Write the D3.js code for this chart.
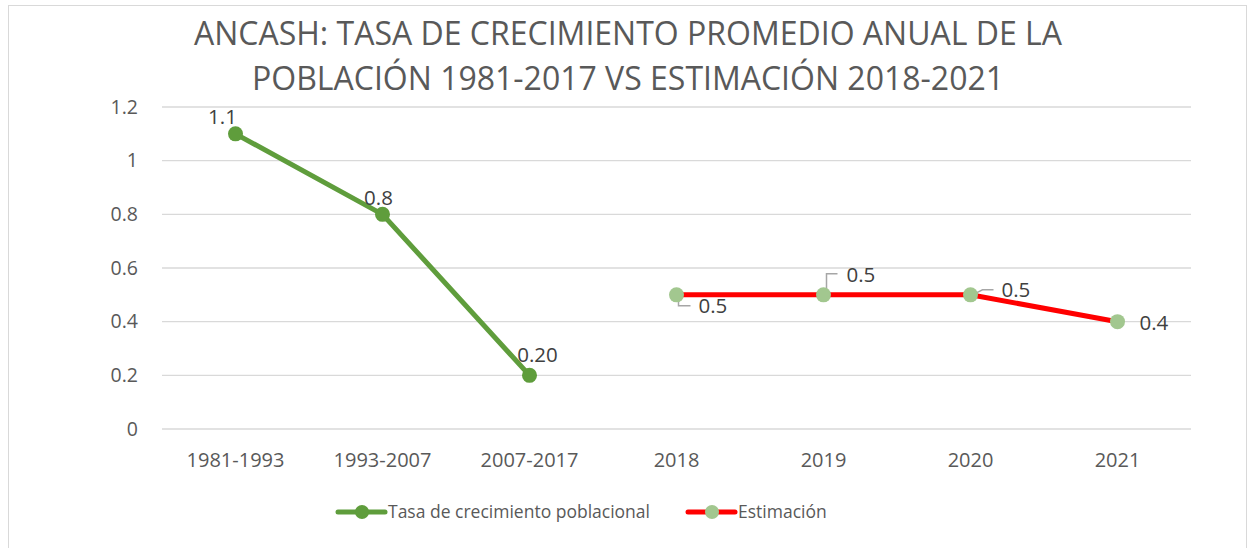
<!DOCTYPE html>
<html>
<head>
<meta charset="utf-8">
<script src="https://cdn.jsdelivr.net/npm/d3@7"></script>
<style>
  body { margin: 0; background: #fff; }
  text { font-family: "Open Sans", "Noto Sans", sans-serif; }
</style>
</head>
<body>
<div id="chart"></div>
<script>
var categories = ["1981-1993", "1993-2007", "2007-2017", "2018", "2019", "2020", "2021"];
var tasaCats = ["1981-1993", "1993-2007", "2007-2017"];
var tasaValues = [1.1, 0.8, 0.2];
var tasaLabels = ["1.1", "0.8", "0.20"];
var estCats = ["2018", "2019", "2020", "2021"];
var estValues = [0.5, 0.5, 0.5, 0.4];
var estLabels = ["0.5", "0.5", "0.5", "0.4"];
var yTicks = [0, 0.2, 0.4, 0.6, 0.8, 1, 1.2];

var W = 1248, H = 548;
var margin = { left: 162, right: 57, top: 107, bottom: 119 };

var svg = d3.select("#chart").append("svg")
    .attr("width", W).attr("height", H);

// chart frame
svg.append("rect")
    .attr("x", 8.5).attr("y", 5.5)
    .attr("width", 1238).attr("height", 560)
    .attr("fill", "#fff").attr("stroke", "#d9d9d9");

var x = d3.scaleBand().domain(categories)
    .range([margin.left, W - margin.right]);
var y = d3.scaleLinear().domain([0, 1.2])
    .range([H - margin.bottom, margin.top]);

// gridlines
svg.append("g").selectAll("line").data(yTicks).enter().append("line")
    .attr("x1", margin.left).attr("x2", W - margin.right)
    .attr("y1", function(d) { return y(d); })
    .attr("y2", function(d) { return y(d); })
    .attr("stroke", "#d9d9d9").attr("stroke-width", 1.3);

// y axis labels
var yAxis = d3.axisLeft(y).tickValues(yTicks).tickSize(0).tickPadding(0)
    .tickFormat(function(d) { return String(d); });
var ya = svg.append("g").attr("transform", "translate(138,0)").call(yAxis);
ya.select(".domain").remove();
ya.selectAll("text").attr("fill", "#595959").attr("font-size", 19.5)
    .attr("font-family", "Open Sans");

// x axis labels
var xAxis = d3.axisBottom(x).tickSize(0).tickPadding(0);
var xa = svg.append("g").attr("transform", "translate(0,467)").call(xAxis);
xa.select(".domain").remove();
xa.selectAll("text").attr("fill", "#595959").attr("font-size", 20)
    .attr("font-family", "Open Sans").attr("y", 0).attr("dy", 0);

var cx = function(c) { return x(c) + x.bandwidth() / 2; };

// title
var title = svg.append("text").attr("text-anchor", "middle")
    .attr("fill", "#595959").attr("font-size", 32);
title.append("tspan").attr("x", 628).attr("y", 45)
    .text("ANCASH: TASA DE CRECIMIENTO PROMEDIO ANUAL DE LA");
title.append("tspan").attr("x", 628).attr("y", 90)
    .text("POBLACIÓN 1981-2017 VS ESTIMACIÓN 2018-2021");

var line = d3.line()
    .x(function(d) { return cx(d.c); })
    .y(function(d) { return y(d.v); });

var tasa = tasaCats.map(function(c, i) { return { c: c, v: tasaValues[i], l: tasaLabels[i] }; });
var est = estCats.map(function(c, i) { return { c: c, v: estValues[i], l: estLabels[i] }; });

var green = "#5f9d3c", red = "#ff0000", lightGreen = "#a2c78f";

svg.append("path").datum(tasa).attr("d", line)
    .attr("fill", "none").attr("stroke", green).attr("stroke-width", 5)
    .attr("stroke-linejoin", "round");
svg.append("g").selectAll("circle").data(tasa).enter().append("circle")
    .attr("cx", function(d) { return cx(d.c); })
    .attr("cy", function(d) { return y(d.v); })
    .attr("r", 7.5).attr("fill", green);

svg.append("path").datum(est).attr("d", line)
    .attr("fill", "none").attr("stroke", red).attr("stroke-width", 5)
    .attr("stroke-linejoin", "round");

// leader lines for estimation labels (style offsets only)
var leaders = [
  [[2, 3], [2, 11], [14, 11]],
  [[3, -5], [3, -21], [14, -21]],
  [[6, -2], [12, -5], [23, -5]],
  null
];
svg.append("g").selectAll("path").data(est).enter().append("path")
    .attr("d", function(d, i) {
      var l = leaders[i]; if (!l) return null;
      return d3.line()(l.map(function(p) { return [cx(d.c) + p[0], y(d.v) + p[1]]; }));
    })
    .attr("fill", "none").attr("stroke", "#a6a6a6").attr("stroke-width", 1.5);

svg.append("g").selectAll("circle").data(est).enter().append("circle")
    .attr("cx", function(d) { return cx(d.c); })
    .attr("cy", function(d) { return y(d.v); })
    .attr("r", 7.5).attr("fill", lightGreen);

// data labels
var tasaOff = [[-13, -10], [-4, -9], [8, -13]];
svg.append("g").selectAll("text").data(tasa).enter().append("text")
    .attr("x", function(d, i) { return cx(d.c) + tasaOff[i][0]; })
    .attr("y", function(d, i) { return y(d.v) + tasaOff[i][1]; })
    .attr("text-anchor", "middle").attr("fill", "#404040").attr("font-size", 20.5)
    .text(function(d) { return d.l; });

var estOff = [[22, 18], [23, -13], [31, 2], [22, 8]];
svg.append("g").selectAll("text").data(est).enter().append("text")
    .attr("x", function(d, i) { return cx(d.c) + estOff[i][0]; })
    .attr("y", function(d, i) { return y(d.v) + estOff[i][1]; })
    .attr("fill", "#404040").attr("font-size", 20.5)
    .text(function(d) { return d.l; });

// legend
var leg = svg.append("g");
var legItems = [
  { name: "Tasa de crecimiento poblacional", line: green, marker: green, x: 338 },
  { name: "Estimación", line: red, marker: lightGreen, x: 688 }
];
legItems.forEach(function(it) {
  leg.append("line").attr("x1", it.x).attr("x2", it.x + 47)
      .attr("y1", 512).attr("y2", 512)
      .attr("stroke", it.line).attr("stroke-width", 5).attr("stroke-linecap", "round");
  leg.append("circle").attr("cx", it.x + 24).attr("cy", 512).attr("r", 7).attr("fill", it.marker);
  leg.append("text").attr("x", it.x + 50).attr("y", 518)
      .attr("fill", "#595959").attr("font-size", 17.5).text(it.name);
});
</script>
</body>
</html>
